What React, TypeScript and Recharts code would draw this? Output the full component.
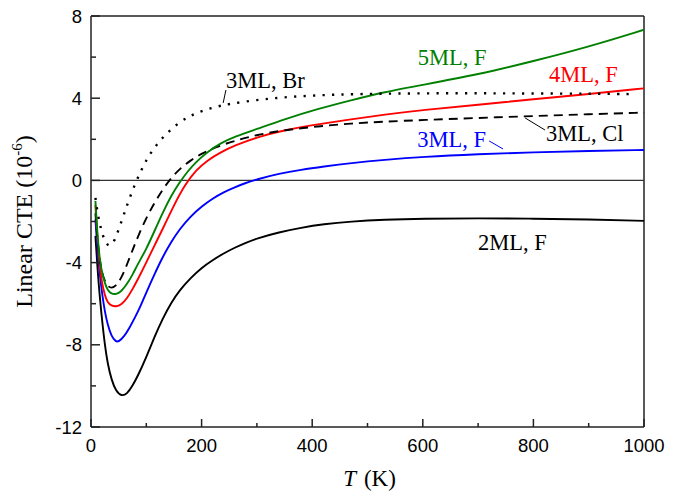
import React from "react";
import { LineChart, Line, XAxis, YAxis, ReferenceLine, ReferenceDot, Label } from "recharts";

// ---- Data (T in K, linear CTE in 1e-6 /K) ----
const T_2ML_F = [8, 12, 16, 20, 25, 30, 37, 45, 55, 65, 75, 85, 100, 115, 130, 145, 160, 180, 200, 220, 240, 260, 280, 300, 340, 380, 420, 470, 530, 600, 700, 800, 900, 1000];
const V_2ML_F = [-2.7, -4.4, -5.7, -6.8, -8.0, -8.9, -9.7, -10.25, -10.5, -10.4, -10.0, -9.5, -8.6, -7.6, -6.7, -5.95, -5.35, -4.75, -4.25, -3.88, -3.55, -3.27, -3.03, -2.82, -2.52, -2.3, -2.13, -2.0, -1.91, -1.86, -1.84, -1.86, -1.9, -1.97];

const T_3ML_F = [8, 12, 16, 20, 25, 30, 37, 45, 50, 60, 70, 80, 90, 100, 115, 130, 145, 160, 180, 200, 220, 240, 260, 280, 300, 340, 380, 420, 470, 530, 600, 700, 800, 900, 1000];
const V_3ML_F = [-1.9, -3.5, -4.6, -5.5, -6.4, -7.0, -7.6, -7.85, -7.85, -7.6, -7.15, -6.65, -6.1, -5.45, -4.55, -3.7, -3.0, -2.38, -1.75, -1.27, -0.88, -0.57, -0.33, -0.12, 0.05, 0.33, 0.52, 0.67, 0.84, 1.0, 1.15, 1.28, 1.37, 1.43, 1.48];

const T_4ML_F = [8, 12, 16, 20, 25, 30, 37, 45, 55, 65, 75, 85, 100, 115, 130, 150, 170, 190, 210, 235, 260, 300, 350, 410, 470, 530, 600, 700, 800, 900, 1000];
const V_4ML_F = [-1.2, -3.0, -4.3, -5.0, -5.6, -5.95, -6.1, -6.15, -6.05, -5.75, -5.3, -4.8, -4.0, -3.15, -2.35, -1.2, -0.2, 0.5, 0.97, 1.38, 1.7, 2.1, 2.45, 2.73, 2.97, 3.2, 3.43, 3.68, 3.95, 4.2, 4.48];

const T_5ML_F = [8, 12, 16, 20, 25, 30, 37, 45, 55, 65, 75, 85, 100, 115, 130, 145, 160, 175, 190, 210, 235, 260, 300, 350, 410, 470, 530, 600, 700, 800, 900, 1000];
const V_5ML_F = [-1.0, -2.8, -3.9, -4.5, -5.0, -5.35, -5.52, -5.55, -5.4, -5.05, -4.6, -4.05, -3.35, -2.45, -1.55, -0.75, -0.1, 0.45, 0.9, 1.38, 1.82, 2.13, 2.5, 2.98, 3.48, 3.9, 4.3, 4.65, 5.15, 5.8, 6.5, 7.33];

const T_3ML_CL = [8, 12, 16, 20, 25, 30, 37, 45, 55, 65, 75, 85, 100, 115, 130, 145, 160, 180, 200, 225, 260, 300, 350, 410, 470, 530, 600, 700, 800, 900, 1000];
const V_3ML_CL = [-1.6, -3.0, -3.9, -4.5, -4.9, -5.15, -5.25, -5.15, -4.75, -4.1, -3.4, -2.72, -1.82, -1.08, -0.42, 0.12, 0.55, 0.98, 1.3, 1.62, 1.93, 2.22, 2.45, 2.63, 2.77, 2.86, 2.94, 3.04, 3.13, 3.22, 3.3];

const T_3ML_BR = [8, 12, 16, 22, 28, 34, 40, 46, 55, 62, 70, 80, 90, 100, 110, 125, 140, 160, 180, 200, 225, 250, 300, 350, 400, 450, 500, 600, 700, 800, 900, 975];
const V_3ML_BR = [-0.85, -1.6, -2.15, -2.75, -3.1, -3.2, -3.05, -2.7, -2.0, -1.45, -0.85, -0.15, 0.45, 0.98, 1.43, 1.95, 2.37, 2.84, 3.15, 3.38, 3.58, 3.72, 3.92, 4.05, 4.13, 4.18, 4.21, 4.24, 4.24, 4.23, 4.22, 4.2];

// Axis ticks
const X_TICKS = [0, 100, 200, 300, 400, 500, 600, 700, 800, 900, 1000];
const Y_TICKS = [-12, -10, -8, -6, -4, -2, 0, 2, 4, 6, 8];

// Annotations
const ANNO_TEXT = ["5ML, F", "4ML, F", "3ML, Br", "3ML, Cl", "3ML, F", "2ML, F"];
const ANNO_T = [591, 828, 244, 823, 590, 700];
const ANNO_V = [5.62, 4.79, 4.5, 1.92, 1.63, -3.39];
const ANNO_COLOR = ["#008000", "#ff0000", "#000000", "#000000", "#0000ff", "#000000"];

// Leader lines [T1, V1, T2, V2]
const LEADERS = [
  { pts: [239, 3.77, 244, 4.4], color: "#000000" },
  { pts: [785, 3.04, 821, 2.45], color: "#000000" },
  { pts: [720, 1.92, 745, 1.53], color: "#0000ff" },
];

const toRows = (ts: number[], vs: number[]) => ts.map((t, i) => ({ T: t, v: vs[i] }));

const SANS = "'Liberation Sans', Arial, Helvetica, sans-serif";
const SERIF = "'Liberation Serif', 'Times New Roman', Times, serif";
const AXIS = "#222";

const XTick = (props: any) => {
  const { x, y, payload } = props;
  const major = payload.value % 200 === 0;
  return (
    <g>
      <line x1={x} x2={x} y1={y} y2={y - (major ? 8 : 4)} stroke={AXIS} strokeWidth={1.5} />
      {major && (
        <text x={x} y={y + 25} textAnchor="middle" fontFamily={SANS} fontSize={18.5} fill="#000">
          {payload.value}
        </text>
      )}
    </g>
  );
};

const YTick = (props: any) => {
  const { x, y, payload } = props;
  const major = payload.value % 4 === 0;
  return (
    <g>
      <line x1={x} x2={x + (major ? 9 : 5)} y1={y} y2={y} stroke={AXIS} strokeWidth={1.5} />
      {major && (
        <text x={x - 9} y={y + 6.5} textAnchor="end" fontFamily={SANS} fontSize={18.5} fill="#000">
          {payload.value}
        </text>
      )}
    </g>
  );
};

const XLabel = (props: any) => {
  const vb = props.viewBox || { x: 91, y: 427, width: 553, height: 64 };
  const cx = vb.x + vb.width / 2 + 2;
  const by = vb.y + 59;
  return (
    <text x={cx} y={by} textAnchor="middle" fontFamily={SERIF} fontSize={23} fill="#000">
      <tspan fontStyle="italic">T</tspan>
      <tspan dx={8}>(K)</tspan>
    </text>
  );
};

const YLabel = (props: any) => {
  const vb = props.viewBox || { x: 0, y: 16, width: 91, height: 411 };
  const cx = 32;
  const cy = vb.y + vb.height / 2;
  return (
    <text
      x={cx}
      y={cy}
      textAnchor="middle"
      fontFamily={SERIF}
      fontSize={24}
      fill="#000"
      transform={`rotate(-90, ${cx}, ${cy})`}
    >
      Linear CTE (10
      <tspan dy={-10} fontSize={15}>-6</tspan>
      <tspan dy={10}>)</tspan>
    </text>
  );
};

const makeAnno = (text: string, color: string) => (props: any) => {
  const vb = props.viewBox || {};
  return (
    <text x={vb.x} y={vb.y} fontFamily={SERIF} fontSize={22.5} fill={color}>
      {text}
    </text>
  );
};

const series = [
  { key: "2ML, F", data: toRows(T_2ML_F, V_2ML_F), color: "#000000", dash: undefined },
  { key: "3ML, F", data: toRows(T_3ML_F, V_3ML_F), color: "#0000ff", dash: undefined },
  { key: "4ML, F", data: toRows(T_4ML_F, V_4ML_F), color: "#ff0000", dash: undefined },
  { key: "3ML, Cl", data: toRows(T_3ML_CL, V_3ML_CL), color: "#000000", dash: "9 6" },
  { key: "5ML, F", data: toRows(T_5ML_F, V_5ML_F), color: "#008000", dash: undefined },
  { key: "3ML, Br", data: toRows(T_3ML_BR, V_3ML_BR), color: "#000000", dash: "2.2 7.3" },
];

export default function App() {
  return (
    <div style={{ position: "absolute", left: 0, top: 0, width: 681, height: 491, background: "#fff" }}>
      <LineChart width={681} height={491} margin={{ top: 16, right: 37, bottom: 0, left: 0 }}>
        <XAxis
          type="number"
          dataKey="T"
          domain={[0, 1000]}
          ticks={X_TICKS}
          interval={0}
          allowDataOverflow
          height={64}
          tickSize={0}
          tickMargin={0}
          tickLine={false}
          axisLine={{ stroke: AXIS, strokeWidth: 1.5 }}
          tick={<XTick />}
        >
          <Label content={XLabel} />
        </XAxis>
        <YAxis
          type="number"
          domain={[-12, 8]}
          ticks={Y_TICKS}
          interval={0}
          allowDataOverflow
          width={91}
          tickSize={0}
          tickMargin={0}
          tickLine={false}
          axisLine={{ stroke: AXIS, strokeWidth: 1.5 }}
          tick={<YTick />}
        >
          <Label content={YLabel} />
        </YAxis>
        <ReferenceLine y={8} stroke={AXIS} strokeWidth={1.5} />
        <ReferenceLine x={1000} stroke={AXIS} strokeWidth={1.5} />
        <ReferenceLine y={0} stroke="#333" strokeWidth={1.3} />
        {series.map((s) => (
          <Line
            key={s.key}
            data={s.data}
            dataKey="v"
            name={s.key}
            type="basis"
            stroke={s.color}
            strokeWidth={s.dash === "2.2 7.3" ? 2.4 : 1.9}
            strokeDasharray={s.dash}
            dot={false}
            activeDot={false}
            isAnimationActive={false}
          />
        ))}
        {LEADERS.map((l, i) => (
          <ReferenceLine
            key={"lead" + i}
            segment={[
              { x: l.pts[0], y: l.pts[1] },
              { x: l.pts[2], y: l.pts[3] },
            ]}
            stroke={l.color}
            strokeWidth={1}
          />
        ))}
        {ANNO_TEXT.map((t, i) => (
          <ReferenceDot
            key={"anno" + i}
            x={ANNO_T[i]}
            y={ANNO_V[i]}
            r={0}
            fill="none"
            stroke="none"
            label={makeAnno(t, ANNO_COLOR[i])}
          />
        ))}
      </LineChart>
    </div>
  );
}
